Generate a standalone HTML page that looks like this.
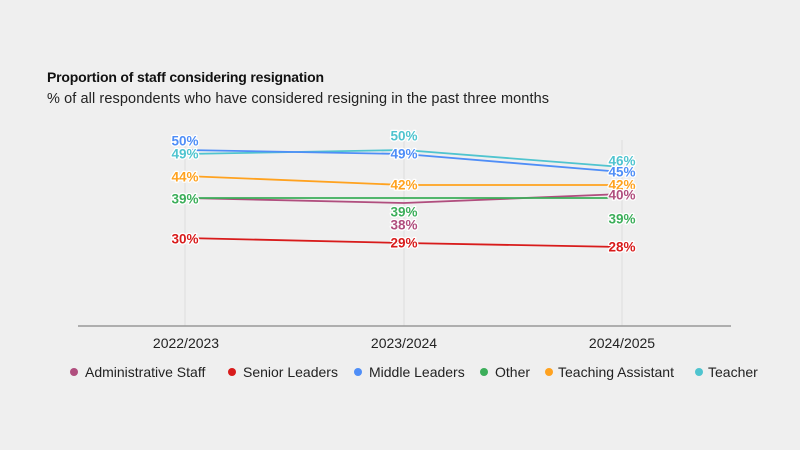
<!DOCTYPE html>
<html><head><style>
body{margin:0;background:#efefef;}
svg{display:block;font-family:"Liberation Sans",Arial,sans-serif;}
.l text{font-weight:bold;font-size:13.5px;text-anchor:middle;stroke:#fff;stroke-width:2.5px;paint-order:stroke;stroke-linejoin:round;dominant-baseline:central;}
</style></head><body>
<svg width="800" height="450" viewBox="0 0 800 450">
<rect width="800" height="450" fill="#efefef"/>
<text x="47" y="82" font-size="14" font-weight="bold" fill="#111" textLength="277">Proportion of staff considering resignation</text>
<text x="47" y="103" font-size="14.5" fill="#222" textLength="502">% of all respondents who have considered resigning in the past three months</text>
<g stroke="#dcdcdc" stroke-width="1">
<line x1="185" y1="140" x2="185" y2="326"/><line x1="404" y1="140" x2="404" y2="326"/><line x1="622" y1="140" x2="622" y2="326"/>
</g>
<line x1="78" y1="326" x2="731" y2="326" stroke="#999" stroke-width="1.5"/>
<g font-size="14" fill="#222" text-anchor="middle">
<text x="186" y="348">2022/2023</text><text x="404" y="348">2023/2024</text><text x="622" y="348">2024/2025</text>
</g>
<g fill="none" stroke-width="1.8">
<polyline points="185,238 404,243 622,247" stroke="#d81b1b"/>
<polyline points="185,198 404,203 622,194" stroke="#b04e7e"/>
<polyline points="185,198 404,198 622,198" stroke="#3cae5a"/>
<polyline points="185,176 404,185 622,185" stroke="#ffa21f"/>
<polyline points="185,154 404,150 622,167" stroke="#4fc4cf"/>
<polyline points="185,150 404,154 622,172" stroke="#4f8ef7"/>
</g>
<g class="l">
<text x="185" y="141" fill="#4f8ef7">50%</text>
<text x="185" y="154" fill="#4fc4cf">49%</text>
<text x="185" y="177" fill="#ffa21f">44%</text>
<text x="185" y="199" fill="#3cae5a">39%</text>
<text x="185" y="239" fill="#d81b1b">30%</text>
<text x="404" y="136" fill="#4fc4cf">50%</text>
<text x="404" y="154" fill="#4f8ef7">49%</text>
<text x="404" y="185" fill="#ffa21f">42%</text>
<text x="404" y="212" fill="#3cae5a">39%</text>
<text x="404" y="225" fill="#b04e7e">38%</text>
<text x="404" y="243" fill="#d81b1b">29%</text>
<text x="622" y="161" fill="#4fc4cf">46%</text>
<text x="622" y="172" fill="#4f8ef7">45%</text>
<text x="622" y="185" fill="#ffa21f">42%</text>
<text x="622" y="195" fill="#b04e7e">40%</text>
<text x="622" y="219" fill="#3cae5a">39%</text>
<text x="622" y="247" fill="#d81b1b">28%</text>
</g>
<g font-size="14" fill="#222">
<circle cx="74" cy="372" r="4" fill="#b04e7e"/><text x="85" y="377">Administrative Staff</text>
<circle cx="232" cy="372" r="4" fill="#d81b1b"/><text x="243" y="377">Senior Leaders</text>
<circle cx="358" cy="372" r="4" fill="#4f8ef7"/><text x="369" y="377">Middle Leaders</text>
<circle cx="484" cy="372" r="4" fill="#3cae5a"/><text x="495" y="377">Other</text>
<circle cx="549" cy="372" r="4" fill="#ffa21f"/><text x="558" y="377">Teaching Assistant</text>
<circle cx="699" cy="372" r="4" fill="#4fc4cf"/><text x="708" y="377">Teacher</text>
</g>
</svg>
</body></html>
